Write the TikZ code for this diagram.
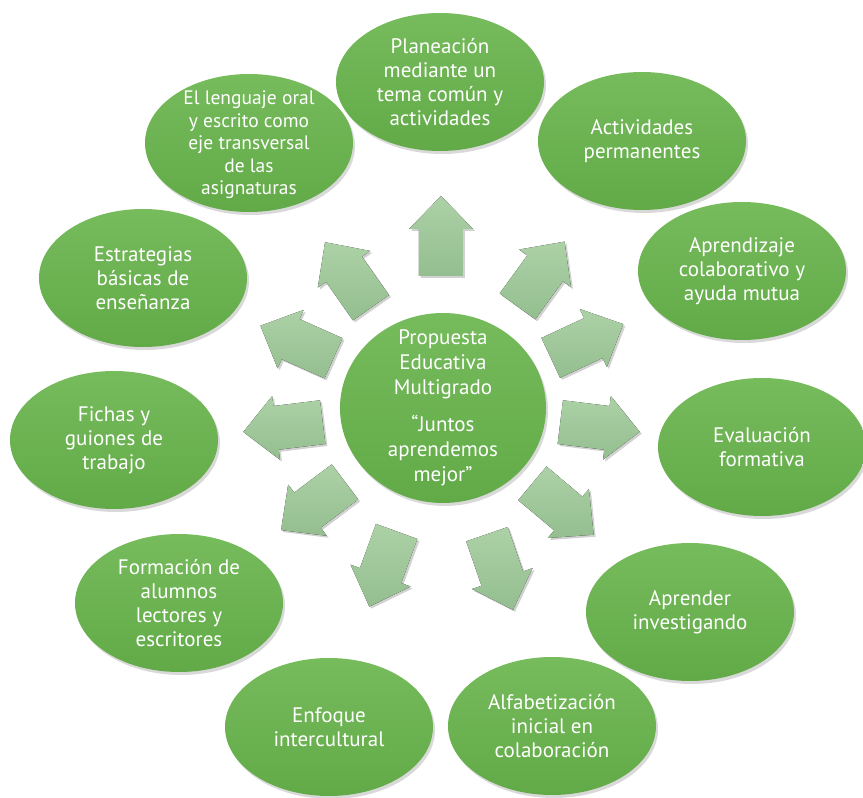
\documentclass[tikz,border=0pt]{standalone}
\usepackage{fontspec}
\setmainfont{PT Sans}
\usetikzlibrary{shapes,shapes.geometric,shadows}

\definecolor{leaflight}{RGB}{118,187,92}
\definecolor{leafdark}{RGB}{98,170,72}
\definecolor{arrowlight}{RGB}{172,209,166}
\definecolor{arrowdark}{RGB}{148,190,144}

\begin{document}
\begin{tikzpicture}
	[x=1pt,y=1pt,
	bubble/.style={shape=ellipse,minimum width=208pt,minimum height=138pt,
		inner sep=0pt,draw=none,top color=leaflight,bottom color=leafdark,
		drop shadow={fill=black!60,opacity=0.25,shadow xshift=2pt,shadow yshift=-3pt}},
	caption/.style={text=white,align=center,inner sep=0pt,
		font=\fontsize{21}{24}\selectfont},
	pointer/.style={top color=arrowlight,bottom color=arrowdark,
		drop shadow={fill=black!60,opacity=0.3,shadow xshift=2pt,shadow yshift=-2pt}}]
	\useasboundingbox (-443,-390) rectangle (420,408);
	
	\foreach \ang/\px/\py in {90/-2/172, 54/98/134, 25/144/67, -7/157/-19,
		-40/120/-101, -71/57/-164, -110/-60/-161, -143/-130/-98, 187/-160/-19,
		156/-146/66, 125/-95/133}
	{
		\fill[pointer,shift={(\px,\py)},rotate=\ang]
			(-40,-22) -- (7,-22) -- (7,-32) -- (40,0) -- (7,32) -- (7,22) -- (-40,22) -- cycle;
	}
	
	\node[bubble] (plan) at (-3,326) {};
	\node[caption] (plantxt) at (plan) {Planeación\\mediante un\\tema común y\\actividades};
	\node[bubble] (perm) at (199,267) {};
	\node[caption] (permtxt) at (perm) {Actividades\\permanentes};
	\node[bubble] (colab) at (299,137) {};
	\node[caption] (colabtxt) at (colab) {Aprendizaje\\colaborativo y\\ayuda mutua};
	\node[bubble] (eval) at (319,-39) {};
	\node[caption] (evaltxt) at (eval) {Evaluación\\formativa};
	\node[bubble] (inv) at (247,-204) {};
	\node[caption] (invtxt) at (inv) {Aprender\\investigando};
	\node[bubble] (alfa) at (109,-318) {};
	\node[caption] (alfatxt) at (alfa) {Alfabetización\\inicial en\\colaboración};
	\node[bubble] (enf) at (-114,-319) {};
	\node[caption] (enftxt) at (enf) {Enfoque\\intercultural};
	\node[bubble] (form) at (-264,-195) {};
	\node[caption] (formtxt) at (form) {Formación de\\alumnos\\lectores y\\escritores};
	\node[bubble] (fich) at (-329,-32) {};
	\node[caption] (fichtxt) at (fich) {Fichas y\\guiones de\\trabajo};
	\node[bubble] (estr) at (-300,130) {};
	\node[caption] (estrtxt) at (estr) {Estrategias\\básicas de\\enseñanza};
	\node[bubble] (leng) at (-194,265) {};
	\node[caption,font=\fontsize{19.5}{22.5}\selectfont] (lengtxt) at ([yshift=-2pt]leng)
		{El lenguaje oral\\y escrito como\\eje transversal\\de las\\asignaturas};
	
	\node[bubble,minimum width=206pt,minimum height=190pt] (hub) at (0,0) {};
	\node[caption,font=\fontsize{21}{25}\selectfont] (hubtxt) at (hub)
		{Propuesta\\Educativa\\Multigrado\\[12pt]“Juntos\\aprendemos\\mejor”};
\end{tikzpicture}
\end{document}
